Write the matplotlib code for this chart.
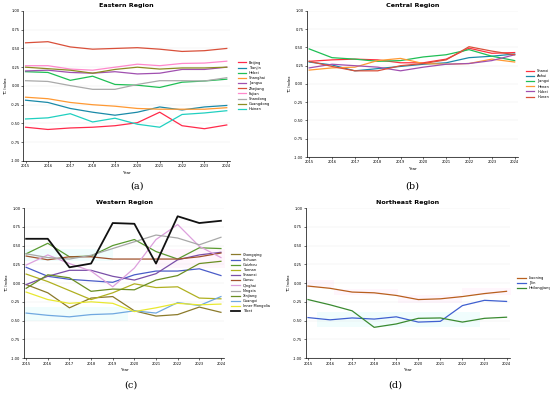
import matplotlib
matplotlib.use('Agg')
import matplotlib.pyplot as plt

years = list(range(2015, 2025))

# Eastern region
east_names = ['Beijing', 'Tianjin', 'Hebei', 'Shanghai', 'Jiangsu', 'Zhejiang',
              'Fujian', 'Shandong', 'Guangdong', 'Hainan']
beijing = [-0.55, -0.58, -0.56, -0.55, -0.53, -0.49, -0.35, -0.53, -0.57, -0.52]
tianjin = [-0.19, -0.22, -0.30, -0.35, -0.39, -0.35, -0.28, -0.32, -0.28, -0.26]
hebei = [0.19, 0.18, 0.075, 0.13, 0.02, 0.01, -0.02, 0.05, 0.066, 0.09]
shanghai = [-0.15, -0.17, -0.22, -0.25, -0.27, -0.30, -0.31, -0.31, -0.31, -0.29]
jiangsu = [0.20, 0.21, 0.18, 0.17, 0.19, 0.16, 0.17, 0.22, 0.22, 0.25]
zhejiang = [0.575, 0.59, 0.52, 0.49, 0.50, 0.51, 0.49, 0.46, 0.47, 0.50]
fujian = [0.27, 0.27, 0.225, 0.21, 0.25, 0.29, 0.27, 0.30, 0.305, 0.33]
shandong = [0.07, 0.06, 0.005, -0.045, -0.045, 0.02, 0.07, 0.07, 0.066, 0.11]
guangdong = [0.25, 0.23, 0.21, 0.17, 0.22, 0.25, 0.225, 0.24, 0.24, 0.25]
hainan = [-0.44, -0.425, -0.37, -0.48, -0.43, -0.51, -0.55, -0.38, -0.36, -0.33]
east_vals = [beijing, tianjin, hebei, shanghai, jiangsu, zhejiang, fujian,
             shandong, guangdong, hainan]
east_colors = ['#ff2a4a', '#1a8aa8', '#1fbf55', '#ff9933', '#a050b0', '#d9503a',
               '#ff88cc', '#aaaaaa', '#8c8c22', '#20d0c0']

# Central region
central_names = ['Shanxi', 'Anhui', 'Jiangxi', 'Henan', 'Hubei', 'Hunan']
shanxi = [0.31, 0.33, 0.34, 0.33, 0.29, 0.29, 0.34, 0.49, 0.42, 0.43]
anhui = [0.30, 0.26, 0.18, 0.21, 0.24, 0.27, 0.29, 0.36, 0.38, 0.41]
jiangxi = [0.48, 0.36, 0.34, 0.31, 0.32, 0.37, 0.40, 0.47, 0.38, 0.32]
henan = [0.19, 0.22, 0.23, 0.32, 0.35, 0.28, 0.27, 0.28, 0.34, 0.30]
hubei = [0.22, 0.27, 0.25, 0.23, 0.18, 0.23, 0.27, 0.28, 0.32, 0.40]
hunan = [0.31, 0.24, 0.18, 0.18, 0.25, 0.28, 0.33, 0.51, 0.45, 0.40]
central_vals = [shanxi, anhui, jiangxi, henan, hubei, hunan]
central_colors = ['#ff3040', '#1a8aa8', '#1fbf55', '#ff9933', '#a050b0', '#d9503a']

# Western region
west_names = ['Chongqing', 'Sichuan', 'Guizhou', 'Yunnan', 'Shaanxi', 'Gansu',
              'Qinghai', 'Ningxia', 'Xinjiang', 'Guangxi', 'Inner Mongolia', 'Tibet']
chongqing = [-0.02, -0.13, -0.33, -0.20, -0.18, -0.37, -0.44, -0.42, -0.32, -0.39]
sichuan = [0.21, 0.09, 0.05, 0.03, 0.01, 0.11, 0.16, 0.16, 0.19, 0.10]
guizhou = [0.39, 0.53, 0.35, 0.36, 0.50, 0.58, 0.42, 0.32, 0.47, 0.46]
yunnan = [0.12, 0.02, -0.10, -0.22, -0.13, -0.01, -0.06, -0.05, -0.20, -0.21]
shaanxi = [-0.02, 0.09, 0.17, 0.17, 0.09, 0.04, 0.125, 0.31, 0.375, 0.41]
gansu = [0.36, 0.31, 0.35, 0.35, 0.32, 0.32, 0.32, 0.32, 0.35, 0.40]
qinghai = [0.24, 0.375, 0.26, 0.16, -0.05, 0.20, 0.58, 0.78, 0.49, 0.34]
ningxia = [0.39, 0.34, 0.32, 0.37, 0.46, 0.55, 0.64, 0.60, 0.51, 0.61]
xinjiang = [-0.07, 0.11, 0.07, -0.11, -0.08, -0.09, 0.04, 0.10, 0.26, 0.29]
guangxi = [-0.40, -0.43, -0.45, -0.42, -0.41, -0.37, -0.40, -0.26, -0.30, -0.18]
inner_mongolia = [-0.12, -0.22, -0.27, -0.25, -0.27, -0.38, -0.33, -0.27, -0.29, -0.28]
tibet = [0.59, 0.59, 0.21, 0.26, 0.80, 0.79, 0.26, 0.89, 0.80, 0.83]
west_vals = [chongqing, sichuan, guizhou, yunnan, shaanxi, gansu, qinghai,
             ningxia, xinjiang, guangxi, inner_mongolia, tibet]
west_colors = ['#8b7a2a', '#4a5cc8', '#5a9a30', '#b0b020', '#7a4fa8', '#a0522d',
               '#dda0dd', '#a8a8a8', '#6b8e23', '#70a8e0', '#e8e830', '#111111']

# Northeast region
ne_names = ['Liaoning', 'Jilin', 'Heilongjiang']
liaoning = [-0.04, -0.07, -0.12, -0.13, -0.165, -0.22, -0.21, -0.18, -0.14, -0.11]
jilin = [-0.46, -0.49, -0.465, -0.48, -0.45, -0.52, -0.51, -0.30, -0.23, -0.245]
heilongjiang = [-0.22, -0.29, -0.37, -0.59, -0.545, -0.47, -0.465, -0.52, -0.47, -0.455]
ne_vals = [liaoning, jilin, heilongjiang]
ne_colors = ['#b8601e', '#4060d0', '#3a8a30']

# faint background bands: (x0, x1, y0, y1, colour)
west_bands = [(2014.9, 2019.7, -0.50, -0.32, '#00e5e5'),
              (2014.9, 2019.0, 0.29, 0.46, '#00e5e5'),
              (2021.0, 2024.2, 0.20, 0.45, '#ff66cc')]
ne_bands = [(2014.9, 2016.2, -0.07, 0.04, '#ff66cc'),
            (2016.2, 2019.1, -0.16, -0.085, '#ff66cc'),
            (2019.1, 2022.0, -0.27, -0.16, '#ff66cc'),
            (2022.0, 2024.2, -0.16, -0.07, '#ff66cc'),
            (2015.4, 2022.8, -0.585, -0.38, '#00e5e5')]

yticks = [-1.0, -0.75, -0.5, -0.25, 0.0, 0.25, 0.5, 0.75, 1.0]

fig = plt.figure(figsize=(5.5, 3.97), dpi=100)


def draw_panel(rect, title, names, vals, colors, letter, letter_xy, bands=()):
    ax = fig.add_axes(rect)
    for x0, x1, y0, y1, c in bands:
        ax.fill_between([x0, x1], y0, y1, color=c, alpha=0.06, lw=0)
    for name, v, c in zip(names, vals, colors):
        lw = 1.3 if name == 'Tibet' else 0.9
        ax.plot(years, v, color=c, lw=lw, label=name)
    ax.set_xlim(2014.9, 2024.15)
    ax.set_ylim(-1.0, 1.0)
    ax.set_xticks(years)
    ax.set_yticks(yticks)
    ax.set_yticklabels(['%.2f' % t for t in yticks])
    ax.tick_params(labelsize=2.6, length=1.5, width=0.4, pad=1)
    ax.grid(axis='y', color='#dddddd', lw=0.3, alpha=0.6)
    for s in ['top', 'right']:
        ax.spines[s].set_visible(False)
    for s in ['left', 'bottom']:
        ax.spines[s].set_linewidth(0.5)
    ax.set_title(title, fontsize=4.6, fontweight='bold', pad=3)
    ax.set_xlabel('Year', fontsize=3, labelpad=1.5)
    ax.set_ylabel('TC Index', fontsize=3, labelpad=1.5)
    ax.legend(loc='center left', bbox_to_anchor=(1.02, 0.5), fontsize=2.6,
              frameon=False, handlelength=2.4, labelspacing=0.32, handletextpad=0.8)
    fig.text(letter_xy[0], letter_xy[1], letter, fontsize=7, family='DejaVu Serif',
             ha='center', va='center')
    return ax


plt.rcParams['axes.unicode_minus'] = False

draw_panel([0.0424, 0.5945, 0.376, 0.378], 'Eastern Region', east_names, east_vals,
           east_colors, '(a)', (137 / 550, 1 - 186 / 397))
draw_panel([0.558, 0.6045, 0.384, 0.368], 'Central Region', central_names, central_vals,
           central_colors, '(b)', (412 / 550, 1 - 186 / 397))
draw_panel([0.0436, 0.098, 0.364, 0.378], 'Western Region', west_names, west_vals,
           west_colors, '(c)', (131 / 550, 1 - 385 / 397), west_bands)
draw_panel([0.556, 0.098, 0.371, 0.378], 'Northeast Region', ne_names, ne_vals,
           ne_colors, '(d)', (395 / 550, 1 - 385 / 397), ne_bands)

fig.savefig('out.png', dpi=100)
